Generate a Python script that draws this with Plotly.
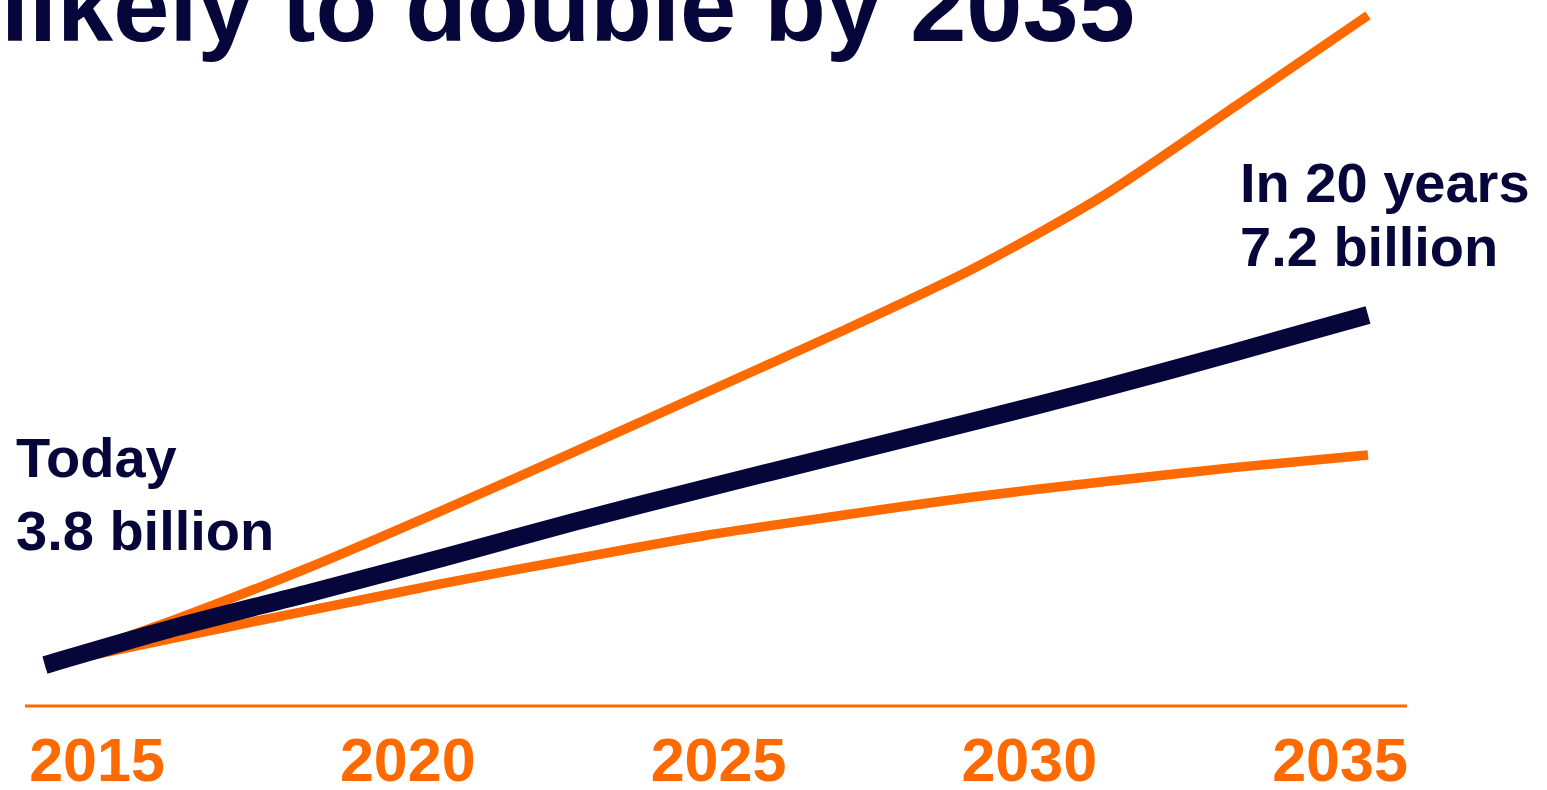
import plotly.graph_objects as go

# ---- data (billions) ----
years = [2015, 2017, 2019, 2021, 2023, 2025, 2027, 2029, 2031, 2033, 2035]
high_case = [3.80, 4.25, 4.75, 5.30, 5.87, 6.45, 7.03, 7.64, 8.36, 9.23, 10.11]
base_case = [3.80, 4.17, 4.50, 4.84, 5.19, 5.52, 5.84, 6.16, 6.49, 6.84, 7.20]
low_case = [3.80, 4.07, 4.33, 4.59, 4.83, 5.06, 5.25, 5.43, 5.58, 5.72, 5.84]

tick_years = [2015, 2020, 2025, 2030, 2035]
tick_labels = ["2015", "2020", "2025", "2030", "2035"]

title_text = "likely to double by 2035"
start_label = ["Today", "3.8 billion"]
end_label = ["In 20 years", "7.2 billion"]

ORANGE = "#ff6a00"
NAVY = "#06063a"
FONT = "Liberation Sans, Arial, sans-serif"
W, H = 1547, 790


def py(pix):
    """pixel row (from top) -> paper fraction"""
    return 1 - pix / H


def px(pix):
    return pix / W


fig = go.Figure()
for vals, color, width in [(high_case, ORANGE, 9.5), (low_case, ORANGE, 9.5), (base_case, NAVY, 18)]:
    fig.add_trace(go.Scatter(
        x=years, y=vals, mode="lines",
        line=dict(color=color, width=width, shape="spline", smoothing=0.8),
        showlegend=False, hoverinfo="skip",
    ))

# invisible trace to carry the label axis
fig.add_trace(go.Scatter(x=tick_years, y=[None] * len(tick_years), xaxis="x2",
                         mode="lines", showlegend=False, hoverinfo="skip"))

fig.update_layout(
    width=W, height=H,
    margin=dict(l=0, r=0, t=0, b=0, autoexpand=False),
    paper_bgcolor="white", plot_bgcolor="white",
    xaxis=dict(range=[2014.320, 2037.706], visible=False, fixedrange=True, automargin=False),
    yaxis=dict(range=[2.586, 10.260], visible=False, fixedrange=True, automargin=False),
    xaxis2=dict(
        overlaying="x", anchor="free", position=py(719), side="bottom",
        range=[2013.439, 2038.331], automargin=False,
        tickmode="array", tickvals=tick_years, ticktext=tick_labels,
        tickfont=dict(family=FONT, size=61, color=ORANGE, weight="bold"),
        showgrid=False, zeroline=False, showline=False, ticks="",
        fixedrange=True,
    ),
    shapes=[dict(type="line", xref="paper", yref="paper",
                 x0=px(25), x1=px(1407), y0=py(706), y1=py(706),
                 line=dict(color=ORANGE, width=3))],
)

annotations = [
    dict(text=title_text, x=px(-1), y=py(64), size=101),
    dict(text=start_label[0], x=px(14), y=py(491), size=56),
    dict(text=start_label[1], x=px(14), y=py(564), size=56),
    dict(text=end_label[0], x=px(1238), y=py(216), size=56),
    dict(text=end_label[1], x=px(1238), y=py(280), size=56),
]
for a in annotations:
    fig.add_annotation(
        text=a["text"], x=a["x"], y=a["y"], xref="paper", yref="paper",
        xanchor="left", yanchor="bottom", showarrow=False, align="left",
        font=dict(family=FONT, size=a["size"], color=NAVY, weight="bold"),
    )

fig.write_html("out.html", config={"displayModeBar": False, "staticPlot": True},
               post_script="document.body.style.margin='0';")
